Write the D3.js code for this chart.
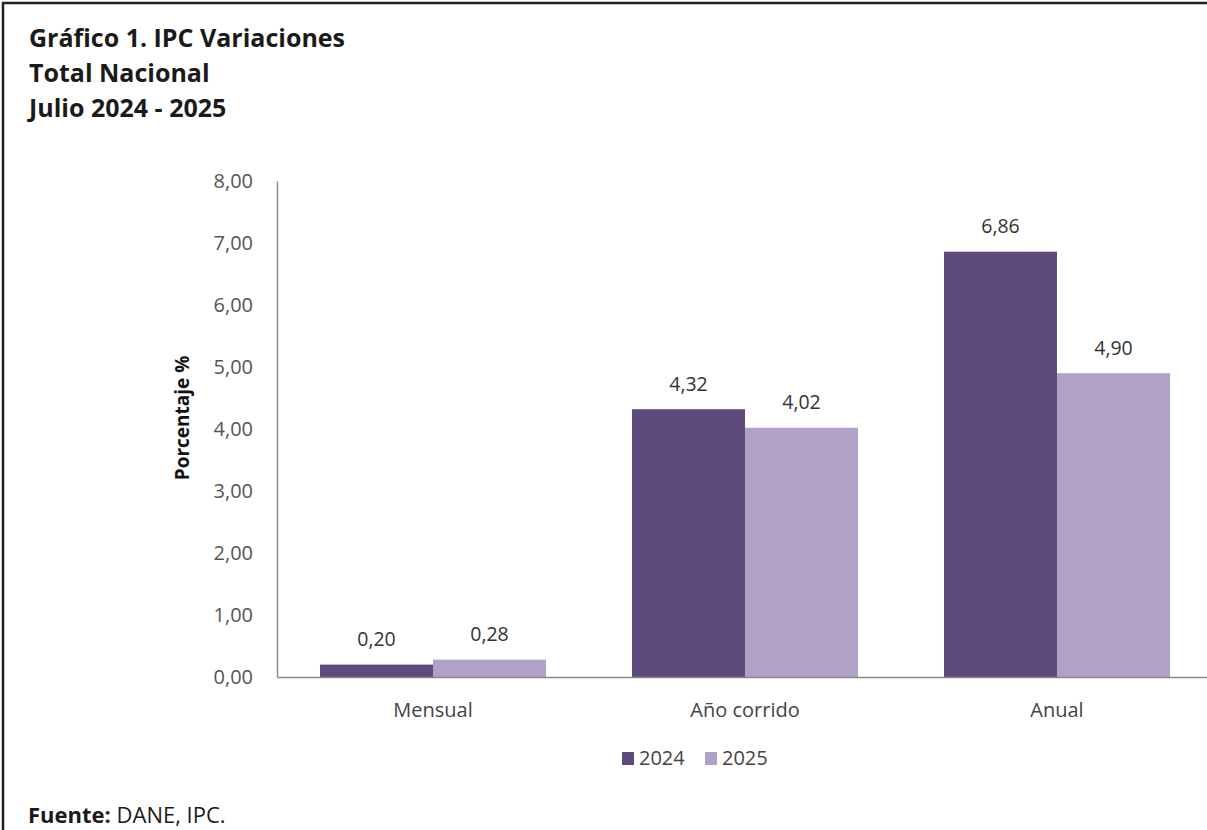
<!DOCTYPE html>
<html>
<head>
<meta charset="utf-8">
<script src="https://cdn.jsdelivr.net/npm/d3@7"></script>
<style>
  html, body { margin: 0; padding: 0; background: #fff; }
  svg { display: block; font-family: "Open Sans", "Noto Sans", sans-serif; }
</style>
</head>
<body>
<svg id="chart" width="1207" height="830"></svg>
<script>
const titleLines = ["Gráfico 1. IPC Variaciones", "Total Nacional", "Julio 2024 - 2025"];
const categories = ["Mensual", "Año corrido", "Anual"];
const seriesNames = ["2024", "2025"];
const values2024 = [0.20, 4.32, 6.86];
const values2025 = [0.28, 4.02, 4.90];
const yTicks = [0, 1, 2, 3, 4, 5, 6, 7, 8];
const yLabel = "Porcentaje %";
const sourceBold = "Fuente:";
const sourceText = " DANE, IPC.";
const colors = ["#5e4a7c", "#b2a1c7"];

const seriesValues = [values2024, values2025];
const fmt = v => d3.format(".2f")(v).replace(".", ",");

const svg = d3.select("#chart");

// frame
svg.append("path")
  .attr("d", "M3,832 L3,3 L1209,3")
  .attr("fill", "none")
  .attr("stroke", "#222")
  .attr("stroke-width", 2.5);

// title
svg.append("g").selectAll("text").data(titleLines).join("text")
  .attr("x", 29)
  .attr("y", (d, i) => 47 + i * 35)
  .attr("font-size", 25)
  .attr("font-weight", "bold")
  .attr("fill", "#1a1a1a")
  .text(d => d);

const plotLeft = 277, plotRight = 1213, plotTop = 181, plotBottom = 677;

const x0 = d3.scaleBand().domain(categories).range([plotLeft, plotRight])
  .paddingInner(0.2756).paddingOuter(0.1378);
const x1 = d3.scaleBand().domain(seriesNames).range([0, x0.bandwidth()]);
const y = d3.scaleLinear().domain([0, 8]).range([plotBottom, plotTop]);

// y axis
const yAxis = d3.axisLeft(y).tickValues(yTicks).tickSize(0).tickPadding(24).tickFormat(fmt);
const gy = svg.append("g").attr("transform", `translate(${plotLeft},0)`).call(yAxis);
gy.select(".domain").attr("stroke", "#8a8a8a").attr("stroke-width", 1.5);
gy.selectAll("text").attr("font-size", 20).attr("fill", "#555").attr("font-family", "Open Sans, sans-serif");

// bars
const groups = svg.append("g").selectAll("g").data(categories).join("g")
  .attr("transform", d => `translate(${x0(d)},0)`);

groups.selectAll("rect")
  .data((c, ci) => seriesNames.map((s, si) => ({ s, si, v: seriesValues[si][ci] })))
  .join("rect")
  .attr("x", d => x1(d.s))
  .attr("width", x1.bandwidth())
  .attr("y", d => y(d.v))
  .attr("height", d => y(0) - y(d.v))
  .attr("fill", d => colors[d.si]);

groups.selectAll("text.val")
  .data((c, ci) => seriesNames.map((s, si) => ({ s, si, v: seriesValues[si][ci] })))
  .join("text")
  .attr("class", "val")
  .attr("x", d => x1(d.s) + x1.bandwidth() / 2)
  .attr("y", d => y(d.v) - 18.5)
  .attr("text-anchor", "middle")
  .attr("font-size", 19.5)
  .attr("fill", "#333")
  .text(d => fmt(d.v));

// x axis
const xAxis = d3.axisBottom(x0).tickSize(0).tickPadding(26);
const gx = svg.append("g").attr("transform", `translate(0,${plotBottom})`).call(xAxis);
gx.select(".domain").attr("stroke", "#8a8a8a").attr("stroke-width", 1.5);
gx.selectAll("text").attr("font-size", 20).attr("fill", "#444").attr("font-family", "Open Sans, sans-serif");

// y label
svg.append("text")
  .attr("transform", `translate(189,418) rotate(-90)`)
  .attr("text-anchor", "middle")
  .attr("font-size", 19)
  .attr("font-weight", "bold")
  .attr("fill", "#111")
  .text(yLabel);

// legend
const legendX = [622, 705];
const leg = svg.append("g").selectAll("g").data(seriesNames).join("g")
  .attr("transform", (d, i) => `translate(${legendX[i]},752)`);
leg.append("rect").attr("width", 12).attr("height", 13).attr("fill", (d, i) => colors[i]);
leg.append("text").attr("x", 17).attr("y", 13).attr("font-size", 20).attr("fill", "#444").text(d => d);

// source
const src = svg.append("text").attr("x", 28).attr("y", 823).attr("font-size", 22).attr("fill", "#1a1a1a");
src.append("tspan").attr("font-weight", "bold").text(sourceBold);
src.append("tspan").text(sourceText);
</script>
</body>
</html>
